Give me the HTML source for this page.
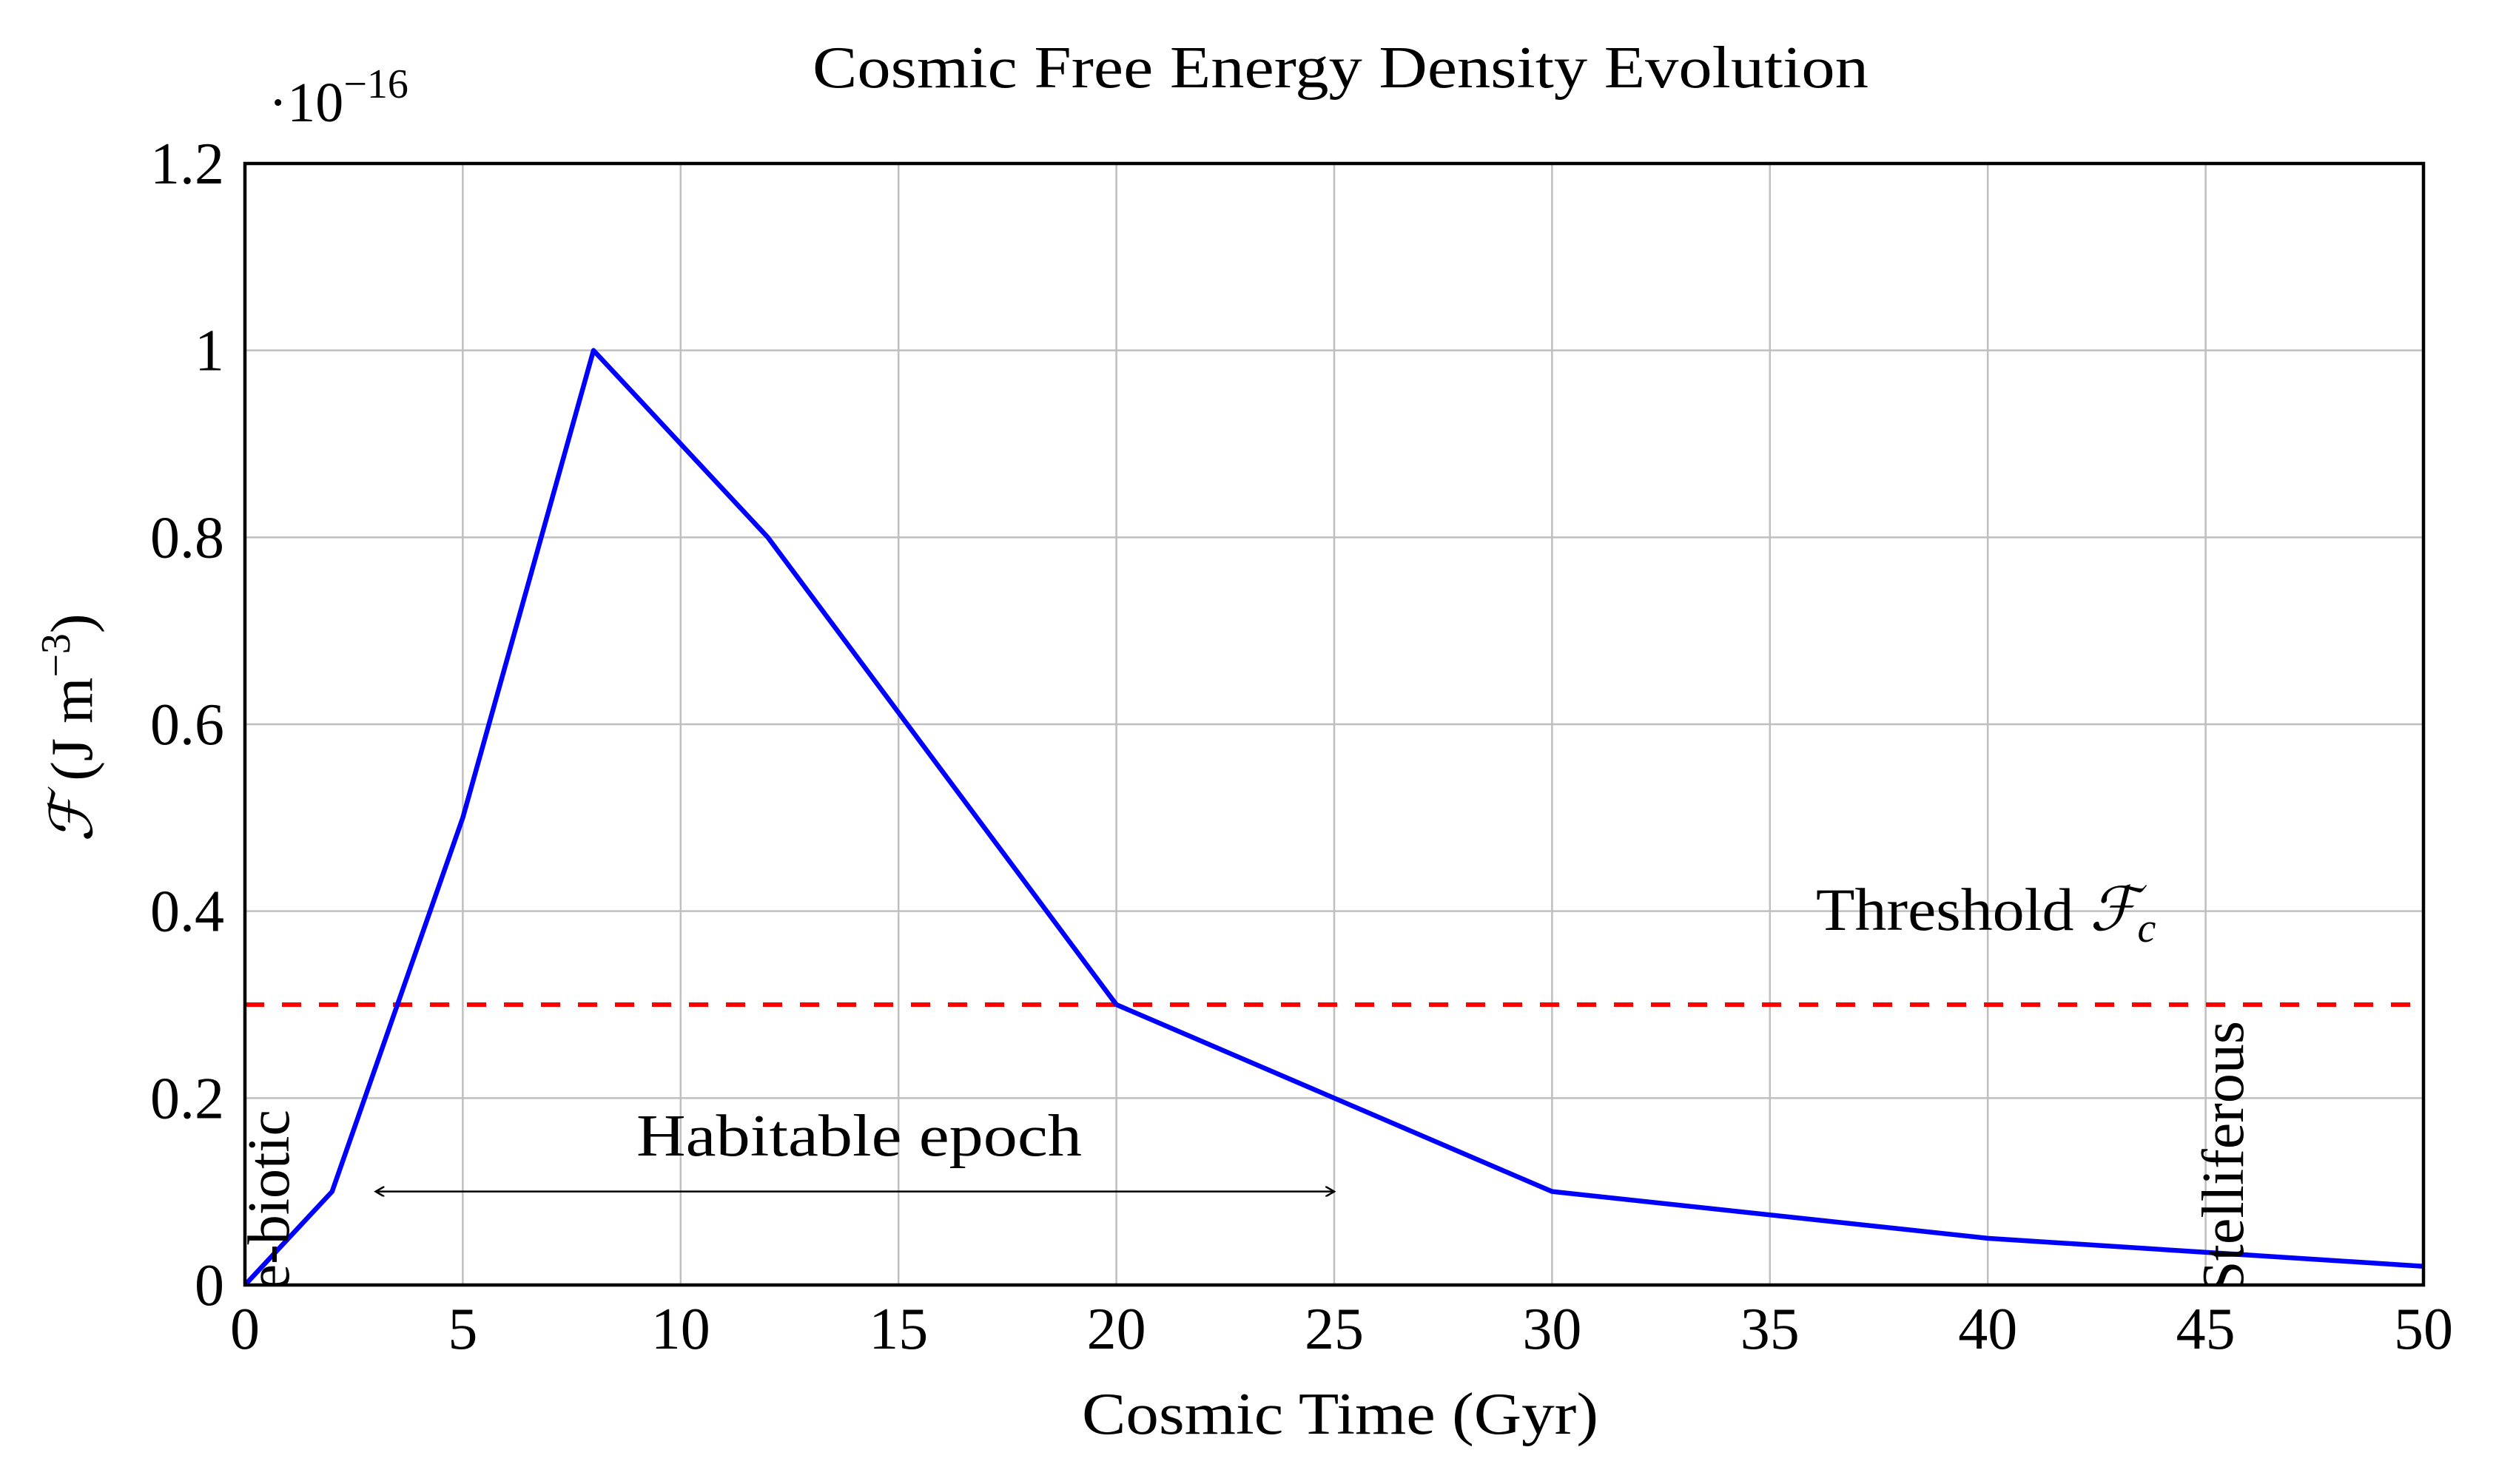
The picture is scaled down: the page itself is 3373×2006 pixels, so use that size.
<!DOCTYPE html>
<html><head><meta charset="utf-8"><style>
html,body{margin:0;padding:0;background:#fff}
svg{display:block}
text{font-family:"Liberation Serif",serif;fill:#000}
</style></head><body>
<svg id="chart" width="3373" height="2006" viewBox="0 0 3373 2006" xmlns="http://www.w3.org/2000/svg">
<defs><clipPath id="plotclip"><rect x="331" y="221" width="2944" height="1516"/></clipPath>
<marker id="arrA" markerWidth="14" markerHeight="14" refX="12" refY="7" orient="auto-start-reverse" markerUnits="userSpaceOnUse"><path d="M0,0 L12,7 L0,14" fill="none" stroke="#000" stroke-width="2.5"/></marker></defs>
<g id="grid"></g>
<g id="marks" clip-path="url(#plotclip)"></g>
<rect x="331" y="221" width="2944" height="1516" fill="none" stroke="#000" stroke-width="4.5"/>
<g id="ticks"></g>
<text x="1098" y="118" font-size="80" textLength="1427" lengthAdjust="spacingAndGlyphs">Cosmic Free Energy Density Evolution</text>
<text x="363" y="164" font-size="76">·10<tspan font-size="56" dy="-32">−16</tspan></text>
<text x="1462" y="1938" font-size="80" textLength="698" lengthAdjust="spacingAndGlyphs">Cosmic Time (Gyr)</text>
<text transform="translate(124,984) rotate(-90)" font-size="80" text-anchor="middle"><tspan font-style="italic">ℱ</tspan> (J m<tspan font-size="56" dy="-30">−3</tspan><tspan dy="30">)</tspan></text>
<text x="2454" y="1257" font-size="82"><tspan textLength="370" lengthAdjust="spacingAndGlyphs">Threshold </tspan><tspan font-style="italic">ℱ</tspan><tspan font-style="italic" font-size="56" dy="16">c</tspan></text>
<text x="860" y="1562" font-size="80" textLength="602" lengthAdjust="spacingAndGlyphs">Habitable epoch</text>
<script>
const xTicks=[0,5,10,15,20,25,30,35,40,45,50];
const yTicks=[0,0.2,0.4,0.6,0.8,1,1.2];
const yTickLabels=["0","0.2","0.4","0.6","0.8","1","1.2"];
const times=[0,2,5,8,12,20,30,40,50];
const energy=[0,0.1,0.5,1.0,0.8,0.3,0.1,0.05,0.02];
const threshold=0.3;
const habitableStart=3, habitableEnd=25, habitableY=0.1;
const X0=331,X1=3275,Y0=1737,Y1=221;
const sx=v=>X0+(v-0)/(50-0)*(X1-X0);
const sy=v=>Y0-(v-0)/(1.2-0)*(Y0-Y1);
const NS="http://www.w3.org/2000/svg";
function mk(t,a,p){const e=document.createElementNS(NS,t);for(const k in a)e.setAttribute(k,a[k]);p.appendChild(e);return e;}
const grid=document.getElementById('grid'),ticks=document.getElementById('ticks'),marks=document.getElementById('marks');
xTicks.forEach(v=>{
 const l=mk('line',{x1:sx(v),x2:sx(v),y1:Y1,y2:Y0,stroke:'#bfbfbf','stroke-width':2.5},grid);
 
 
 const t=mk('text',{x:sx(v),y:1823,'font-size':80,'text-anchor':'middle'},ticks);t.textContent=v;
 
 
});
yTicks.forEach((v,i)=>{
 const l=mk('line',{x1:X0,x2:X1,y1:sy(v),y2:sy(v),stroke:'#bfbfbf','stroke-width':2.5},grid);
 
 
 const t=mk('text',{x:303,y:sy(v)+27,'font-size':80,'text-anchor':'end'},ticks);t.textContent=yTickLabels[i];
 
 
});
const th=mk('line',{x1:X0,x2:X1,y1:sy(threshold),y2:sy(threshold),stroke:'#ff0000','stroke-width':6,'stroke-dasharray':'26 24'},marks);


const pl=mk('polyline',{points:times.map((t,i)=>sx(t)+','+sy(energy[i])).join(' '),fill:'none',stroke:'#0000ff','stroke-width':6.5,'stroke-linejoin':'round'},marks);


const ar=mk('line',{x1:sx(habitableStart),x2:sx(habitableEnd),y1:sy(habitableY),y2:sy(habitableY),stroke:'#000','stroke-width':2.5,'marker-start':'url(#arrA)','marker-end':'url(#arrA)'},marks);


const t1=mk('text',{transform:'translate(390,1500) rotate(-90)','font-size':80,'text-anchor':'end'},marks);t1.textContent='Pre-biotic';


const t2=mk('text',{transform:'translate(3031,1380) rotate(-90)','font-size':80,'text-anchor':'end'},marks);t2.textContent='Stelliferous';


</script>
</svg>
</body></html>
